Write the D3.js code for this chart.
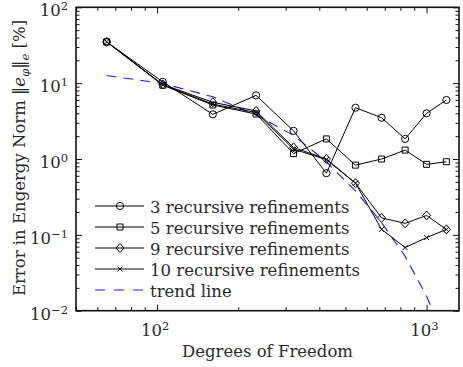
<!DOCTYPE html>
<html>
<head>
<meta charset="utf-8">
<script src="https://cdn.jsdelivr.net/npm/d3@7"></script>
<style>
  body { margin: 0; background: #fff; }
</style>
</head>
<body>
<svg id="chart" width="463" height="367"></svg>
<script>
// Degrees of freedom at each refinement step
const dof = [65, 105, 161, 233, 321, 425, 545, 681, 833, 1001, 1185];

// Error in energy norm [%] for each recursion depth
const err3  = [35, 10.4, 3.88, 6.9, 2.35, 0.65, 4.75, 3.5, 1.84, 4.0, 6.0];
const err5  = [35, 9.4, 5.15, 3.92, 1.18, 1.84, 0.83, 1.0, 1.31, 0.85, 0.92];
const err9  = [35, 9.6, 5.6, 4.3, 1.42, 1.0, 0.48, 0.167, 0.142, 0.18, 0.118];
const err10 = [35, 9.5, 5.3, 4.1, 1.35, 0.98, 0.48, 0.118, 0.068, 0.092, 0.118];
const trend = [12.6, 9.9, 6.6, 3.8, 2.05, 0.92, 0.38, 0.145, 0.052, 0.0155, 0.0038];

const seriesLabels = ["3 recursive refinements", "5 recursive refinements",
                      "9 recursive refinements", "10 recursive refinements", "trend line"];
const markerKinds = ["circle", "square", "diamond", "cross"];

const xMajor = [100, 1000];
const xMajorExp = ["2", "3"];
const yMajor = [0.01, 0.1, 1, 10, 100];
const yMajorExp = ["\u22122", "\u22121", "0", "1", "2"];

(function () {
const W = 463, H = 367;
const pLeft = 76, pRight = 459, pTop = 7.3, pBottom = 310.7;
const FONT = "'DejaVu Serif', serif";
const FS = 16.5;

const svg = d3.select("#chart");
svg.append("rect").attr("width", W).attr("height", H).attr("fill", "#fff");

const x = d3.scaleLog().domain([50, 1320]).range([pLeft, pRight]);
const y = d3.scaleLog().domain([0.01, 100]).range([pBottom, pTop]);

// minor tick positions: 2..9 within each decade
const xMinor = [];
for (let d = 10; d <= 1000; d *= 10) for (let k = 2; k <= 9; k++) {
  const v = d * k; if (v >= 50 && v <= 1320) xMinor.push(v);
}
const yMinor = [];
for (let e = -2; e < 2; e++) for (let k = 2; k <= 9; k++) yMinor.push(k * Math.pow(10, e));

const defs = svg.append("defs");
defs.append("clipPath").attr("id", "plotClip")
  .append("rect").attr("x", pLeft).attr("y", pTop)
  .attr("width", pRight - pLeft).attr("height", pBottom - pTop);

function txt(sel) {
  return sel.append("text").attr("font-family", FONT).attr("fill", "#2a2a2a");
}

// inward ticks on all four sides
function tickAxis(axisFn, scale, vals, size, tx, ty) {
  const g = svg.append("g").attr("transform", `translate(${tx},${ty})`)
    .call(axisFn(scale).tickValues(vals).tickSize(size).tickFormat(""));
  g.select(".domain").remove();
  g.selectAll(".tick line").attr("stroke", "#111").attr("stroke-width", 1);
  return g;
}
tickAxis(d3.axisBottom, x, xMajor, -6, 0, pBottom);
tickAxis(d3.axisBottom, x, xMinor, -3.5, 0, pBottom);
tickAxis(d3.axisTop, x, xMajor, -6, 0, pTop);
tickAxis(d3.axisTop, x, xMinor, -3.5, 0, pTop);
tickAxis(d3.axisLeft, y, yMajor, -6, pLeft, 0);
tickAxis(d3.axisLeft, y, yMinor, -3.5, pLeft, 0);
tickAxis(d3.axisRight, y, yMajor, -6, pRight, 0);
tickAxis(d3.axisRight, y, yMinor, -3.5, pRight, 0);

// tick labels with superscript exponents
yMajor.forEach((v, i) => {
  const t = txt(svg).attr("x", 68).attr("y", y(v) + 9)
    .attr("text-anchor", "end").attr("font-size", FS);
  t.append("tspan").text("10");
  t.append("tspan").attr("dy", -6).attr("font-size", 11.5).text(yMajorExp[i]);
});
xMajor.forEach((v, i) => {
  const t = txt(svg).attr("x", x(v) - 2).attr("y", 336)
    .attr("text-anchor", "middle").attr("font-size", FS);
  t.append("tspan").text("10");
  t.append("tspan").attr("dy", -6).attr("font-size", 11.5).text(xMajorExp[i]);
});

// axis titles
txt(svg).attr("x", (pLeft + pRight) / 2).attr("y", 357)
  .attr("text-anchor", "middle").attr("font-size", FS).text("Degrees of Freedom");

const yl = txt(svg).attr("transform", "translate(25,158) rotate(-90)")
  .attr("text-anchor", "middle").attr("font-size", FS);
yl.append("tspan").text("Error in Engergy Norm \u2016");
yl.append("tspan").attr("font-style", "italic").text("e");
yl.append("tspan").attr("font-style", "italic").attr("font-size", 11.5).attr("dy", 4).text("\u03c6");
yl.append("tspan").attr("dy", -4).text("\u2016");
yl.append("tspan").attr("font-style", "italic").attr("font-size", 11.5).attr("dy", 4).text("e");
yl.append("tspan").attr("dy", -4).text(" [%]");

// marker shapes
function markerPath(kind) {
  switch (kind) {
    case "circle": return d3.symbol(d3.symbolCircle, Math.PI * 3.6 * 3.6)();
    case "square": return "M-3,-3H3V3H-3Z";
    case "diamond": return "M0,-4.5L4,0L0,4.5L-4,0Z";
    case "cross": return "M-2.5,-2.5L2.5,2.5M-2.5,2.5L2.5,-2.5";
  }
}

const line = d3.line().x(d => x(d[0])).y(d => y(d[1]));
const plot = svg.append("g");
const series = [err3, err5, err9, err10];

// trend line (clipped to the axes box)
plot.append("path").attr("clip-path", "url(#plotClip)")
  .attr("d", line(dof.map((d, i) => [d, trend[i]])))
  .attr("fill", "none").attr("stroke", "#1a1aff").attr("stroke-width", 1.1)
  .attr("stroke-dasharray", "10,7");

series.forEach((vals, s) => {
  const pts = dof.map((d, i) => [d, vals[i]]);
  plot.append("path").attr("d", line(pts))
    .attr("fill", "none").attr("stroke", "#000").attr("stroke-width", 1);
  plot.selectAll(null).data(pts).join("path")
    .attr("transform", d => `translate(${x(d[0])},${y(d[1])})`)
    .attr("d", markerPath(markerKinds[s]))
    .attr("fill", "none").attr("stroke", "#000").attr("stroke-width", 1);
});

// axes box
svg.append("rect").attr("x", pLeft).attr("y", pTop)
  .attr("width", pRight - pLeft).attr("height", pBottom - pTop)
  .attr("fill", "none").attr("stroke", "#111").attr("stroke-width", 1.6);

// legend
const legRows = [206, 227, 248, 269, 290];
const leg = svg.append("g");
seriesLabels.forEach((lab, i) => {
  const ly = legRows[i];
  if (i < 4) {
    leg.append("line").attr("x1", 95).attr("x2", 144).attr("y1", ly).attr("y2", ly)
      .attr("stroke", "#000").attr("stroke-width", 1);
    leg.append("path").attr("transform", `translate(120,${ly})`)
      .attr("d", markerPath(markerKinds[i]))
      .attr("fill", "none").attr("stroke", "#000").attr("stroke-width", 1);
  } else {
    leg.append("line").attr("x1", 95).attr("x2", 144).attr("y1", ly).attr("y2", ly)
      .attr("stroke", "#1a1aff").attr("stroke-width", 1.1).attr("stroke-dasharray", "10,9");
  }
  txt(leg).attr("x", 150).attr("y", ly + 6.5).attr("font-size", FS).text(lab);
});
})();
</script>
</body>
</html>
